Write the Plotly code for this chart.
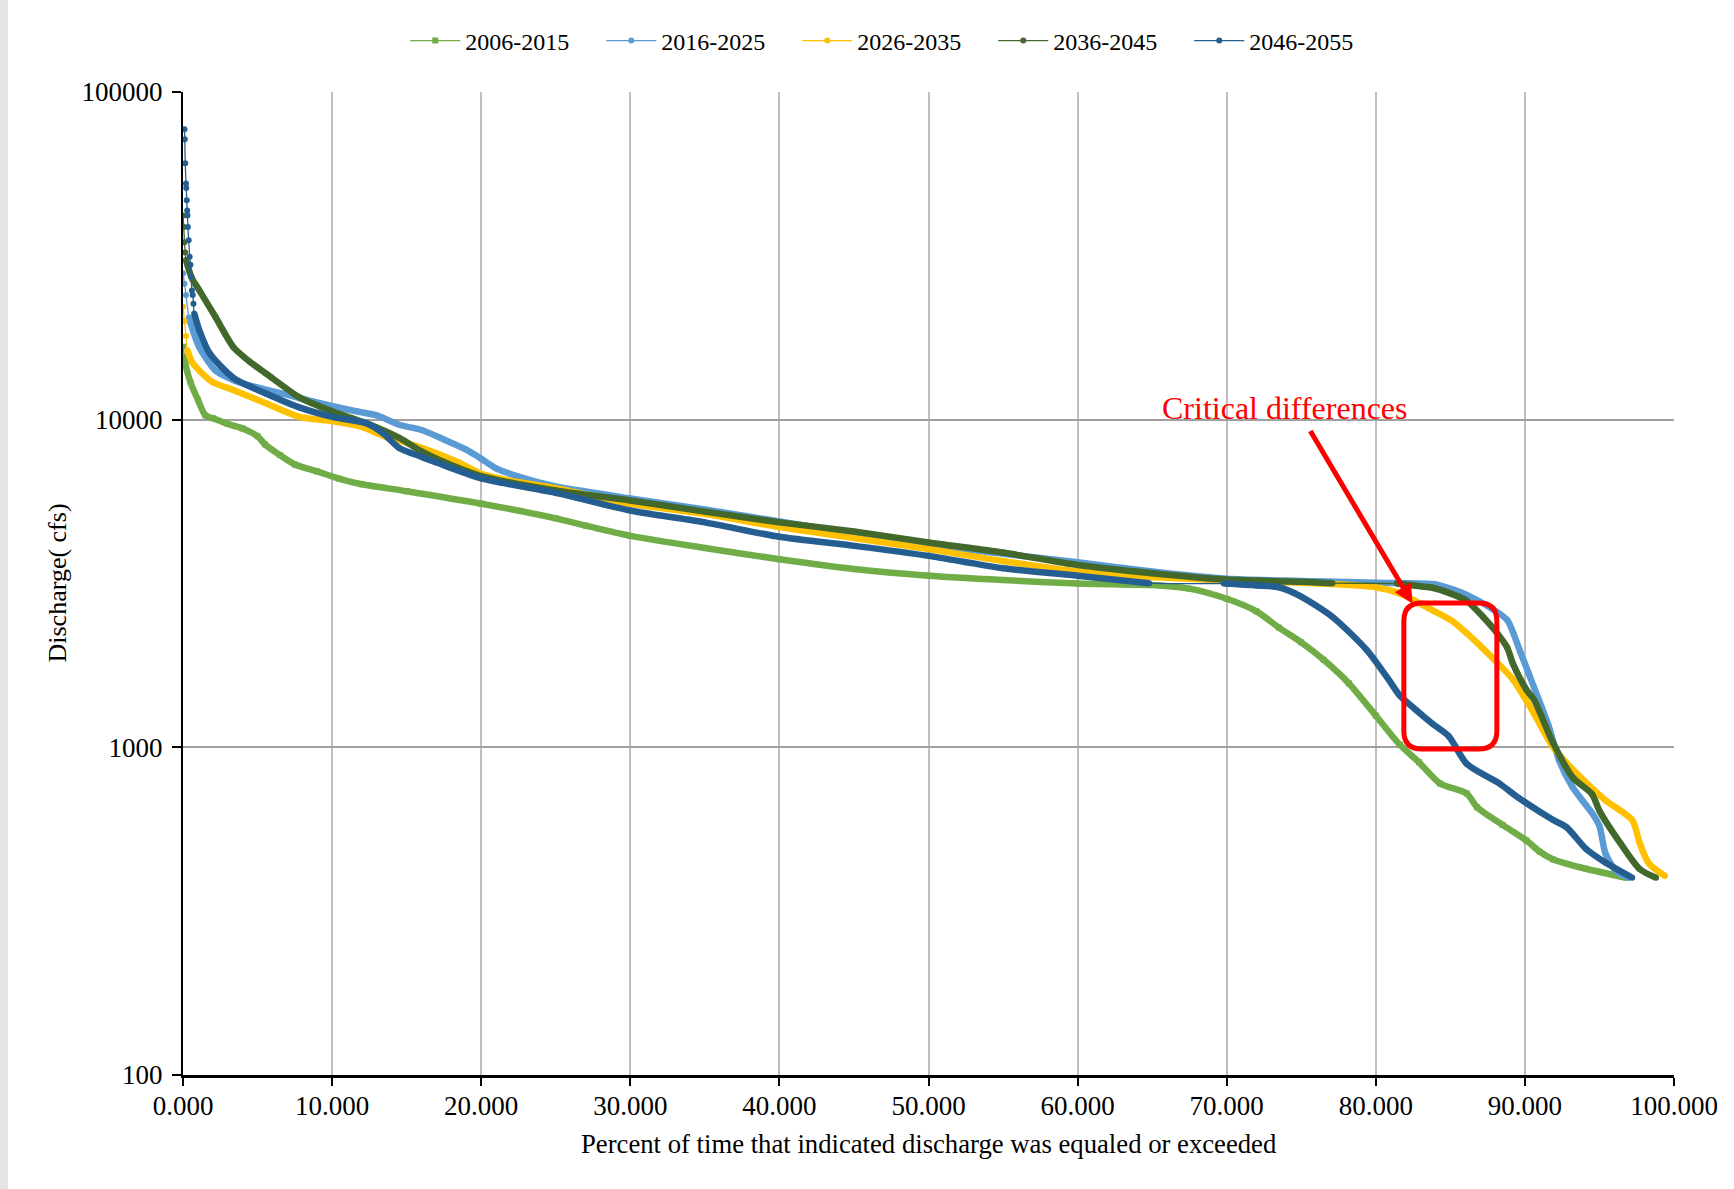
import plotly.graph_objects as go

# Flow duration curves: percent of time exceeded (x) vs discharge in cfs (y)
PERIODS = ["2006-2015", "2016-2025", "2026-2035", "2036-2045", "2046-2055"]

x_2006 = [0.0, 0.1, 0.2, 0.5, 1.0, 1.5, 2.0, 3.0, 4.0, 5.0, 5.5, 6.5, 7.5, 9.0, 10.5, 12.0, 15.0,
          20.0, 25.0, 27.0, 30.0, 35.0, 40.0, 45.0, 50.0, 55.0, 60.0, 65.5, 67.5, 70.0, 72.0,
          73.5, 75.0, 76.5, 78.2, 80.0, 81.6, 82.9, 84.3, 86.1, 86.8, 88.5, 90.1, 91.0, 91.9,
          94.1, 96.8]
q_2006 = [16700, 15600, 14500, 13000, 11500, 10300, 10100, 9700, 9400, 8900, 8400, 7800, 7300,
          6950, 6600, 6350, 6050, 5540, 5000, 4750, 4420, 4060, 3750, 3500, 3340, 3240, 3160,
          3120, 3050, 2840, 2600, 2320, 2090, 1850, 1567, 1250, 1020, 900, 776, 723, 656, 580,
          520, 480, 455, 426, 400]

x_2016 = [0.0, 0.1, 0.2, 0.4, 0.7, 1.1, 2.2, 3.4, 4.5, 6.7, 8.9, 11.2, 13.0, 14.5, 16.0, 17.5,
          19.0, 20.0, 21.0, 22.5, 25.0, 30.0, 35.0, 40.0, 45.0, 50.0, 55.0, 60.0, 65.0, 70.0,
          75.0, 80.0, 83.8, 85.0, 86.1, 87.5, 88.8, 89.7, 90.6, 91.6, 92.3, 93.2, 94.5, 95.0,
          95.4, 96.1, 97.0]
q_2016 = [28000, 26000, 24000, 20500, 18500, 16600, 14100, 13200, 12700, 12000, 11300, 10700,
          10300, 9650, 9300, 8700, 8100, 7600, 7100, 6700, 6250, 5750, 5320, 4890, 4490, 4150,
          3900, 3670, 3440, 3270, 3220, 3180, 3150, 3050, 2920, 2700, 2450, 1950, 1530, 1160,
          910, 755, 630, 575, 475, 420, 400]

x_2026 = [0.0, 0.1, 0.2, 0.3, 0.6, 1.1, 2.0, 3.4, 5.6, 7.8, 10.0, 12.0, 13.5, 15.0, 17.0, 18.5,
          20.0, 22.0, 25.0, 30.0, 35.0, 40.0, 45.0, 50.0, 55.0, 60.0, 65.0, 70.0, 75.0, 77.1,
          80.0, 81.6, 83.8, 85.0, 86.1, 87.9, 89.2, 90.6, 91.9, 93.5, 95.4, 97.2, 97.7, 98.3,
          99.4]
q_2026 = [22100, 20000, 18000, 16300, 15000, 14100, 13000, 12300, 11200, 10200, 9900, 9500,
          8900, 8500, 7900, 7400, 6830, 6500, 6180, 5540, 5160, 4700, 4350, 4030, 3700, 3440,
          3310, 3230, 3180, 3150, 3080, 2950, 2620, 2450, 2230, 1860, 1610, 1270, 1000, 830,
          690, 600, 510, 443, 405]

x_2036 = [0.0, 0.05, 0.1, 0.15, 0.2, 0.6, 1.1, 2.2, 3.4, 4.5, 5.6, 7.8, 10.0, 12.3, 14.5, 16.0,
          17.0, 20.0, 25.0, 30.0, 35.0, 40.0, 45.0, 50.0, 55.0, 60.0, 65.0, 70.0, 75.0, 77.1,
          81.4, 83.0, 83.8, 85.0, 86.1, 87.2, 87.9, 88.8, 89.2, 90.1, 90.6, 91.9, 93.2, 94.5,
          95.0, 96.4, 97.7, 98.8]
q_2036 = [42000, 38700, 34800, 32400, 30700, 27000, 24800, 20500, 16600, 15000, 13800, 11700,
          10600, 9750, 8800, 8000, 7600, 6730, 6080, 5670, 5240, 4860, 4560, 4220, 3930, 3600,
          3400, 3250, 3200, 3170, 3160, 3100, 3070, 2950, 2800, 2500, 2300, 2020, 1800, 1500,
          1400, 1030, 810, 720, 640, 510, 425, 400]

x_2046 = [0.1, 0.12, 0.15, 0.2, 0.22, 0.25, 0.28, 0.3, 0.33, 0.38, 0.45, 0.5, 0.55, 0.6, 0.65,
          0.7, 0.75, 1.1, 1.8, 3.4, 5.6, 7.8, 10.0, 12.3, 13.4, 14.5, 16.0, 17.0, 20.0, 25.0,
          30.0, 35.0, 40.0, 45.0, 50.0, 55.0, 60.0, 64.8, 69.8, 72.0, 73.5, 74.9, 77.1, 79.4,
          80.9, 81.6, 82.7, 83.8, 84.9, 86.1, 88.3, 89.6, 91.9, 92.8, 94.1, 95.4, 97.2]
q_2046 = [77000, 71700, 60600, 52600, 50900, 46700, 43500, 42000, 38700, 35300, 31400, 29700,
          27300, 24800, 24000, 22600, 21100, 18700, 15900, 13400, 12000, 10900, 10200, 9750,
          9100, 8200, 7700, 7400, 6620, 5980, 5280, 4860, 4390, 4120, 3840, 3520, 3340, 3170,
          3160, 3120, 3080, 2900, 2500, 1980, 1600, 1440, 1300, 1180, 1080, 890, 775, 700, 600,
          570, 490, 445, 400]

# Stretches with only a few daily values: drawn as thin line with single markers
sparse_2006 = [(0.0, 0.1)]
sparse_2016 = [(0.0, 0.4)]
sparse_2026 = [(0.0, 0.3)]
sparse_2036 = [(0.0, 0.2), (77.1, 81.4)]
sparse_2046 = [(0.0, 0.75), (64.8, 69.8)]

X_TICKS = [0, 10, 20, 30, 40, 50, 60, 70, 80, 90, 100]
Y_TICKS = [100, 1000, 10000, 100000]
Y_TICK_TEXT = ["100", "1000", "10000", "100000"]

series = [
    (PERIODS[0], x_2006, q_2006, sparse_2006, "#70AD47", "square"),
    (PERIODS[1], x_2016, q_2016, sparse_2016, "#5B9BD5", "circle"),
    (PERIODS[2], x_2026, q_2026, sparse_2026, "#FFC000", "circle"),
    (PERIODS[3], x_2036, q_2036, sparse_2036, "#43682B", "circle"),
    (PERIODS[4], x_2046, q_2046, sparse_2046, "#255E91", "circle"),
]

FONT = "Times New Roman, Liberation Serif, serif"


def dense_part(xs, ys, spans):
    """Break the heavy line wherever a segment lies inside a sparse stretch."""
    ox, oy = [], []
    for i, (xv, yv) in enumerate(zip(xs, ys)):
        if i > 0 and any(a <= xs[i - 1] and xv <= b for a, b in spans):
            ox.append(None)
            oy.append(None)
        ox.append(xv)
        oy.append(yv)
    return ox, oy


fig = go.Figure()
for name, xs, ys, spans, color, symbol in series:
    hx, hy = dense_part(xs, ys, spans)
    fig.add_trace(go.Scatter(
        x=hx, y=hy, mode="lines", showlegend=False, hoverinfo="skip",
        line=dict(color=color, width=6.5, shape="spline", smoothing=0.7),
        connectgaps=False,
    ))
    fig.add_trace(go.Scatter(
        x=xs, y=ys, mode="lines+markers", name=name,
        line=dict(color=color, width=1.3, shape="spline", smoothing=0.7),
        marker=dict(color=color, size=6, symbol=symbol),
    ))

W, H = 1734, 1189
L, R, T, B = 183, 60, 92, 114
pw, ph = W - L - R, H - T - B


def px_to_paper_x(px):
    return (px - L) / pw


def px_to_paper_y(py):
    return (H - B - py) / ph


fig.update_layout(
    width=W, height=H,
    margin=dict(l=L, r=R, t=T, b=B),
    paper_bgcolor="white", plot_bgcolor="white",
    font=dict(family=FONT, color="black", size=24),
    legend=dict(
        orientation="h", xref="container", yref="container",
        x=0.5163, y=1 - 41 / H, xanchor="center", yanchor="middle",
        font=dict(family=FONT, size=24, color="black"),
        entrywidth=131, itemwidth=50, bgcolor="rgba(0,0,0,0)",
    ),
    xaxis=dict(
        range=[0, 100], tickvals=X_TICKS, tickformat=".3f",
        showgrid=True, gridcolor="#BFBFBF", gridwidth=1.5,
        showline=True, linecolor="black", linewidth=2.5,
        ticks="outside", ticklen=8, tickwidth=1.5, tickcolor="black",
        tickfont=dict(family=FONT, size=27), zeroline=False,
        ticklabelstandoff=-3,
    ),
    yaxis=dict(
        type="log", range=[2, 5], tickvals=Y_TICKS, ticktext=Y_TICK_TEXT,
        showgrid=True, gridcolor="#A0A0A0", gridwidth=2,
        showline=True, linecolor="black", linewidth=2,
        ticks="outside", ticklen=9, tickwidth=1.5, tickcolor="black",
        tickfont=dict(family=FONT, size=27), zeroline=False,
        ticklabelstandoff=4,
    ),
    annotations=[
        dict(text="Percent of time that indicated discharge was equaled or exceeded",
             xref="paper", yref="paper", x=0.5, y=px_to_paper_y(1144),
             xanchor="center", yanchor="middle", showarrow=False,
             font=dict(family=FONT, size=26.7)),
        dict(text="Discharge( cfs)", xref="paper", yref="paper",
             x=px_to_paper_x(57), y=0.5, textangle=-90,
             xanchor="center", yanchor="middle", showarrow=False,
             font=dict(family=FONT, size=26)),
        dict(text="Critical differences", xref="x", yref="y",
             x=73.9, y=4.0345, xanchor="center", yanchor="middle", showarrow=False,
             font=dict(family=FONT, size=32, color="#FF0000")),
        dict(text="", xref="x", yref="y", x=82.46, y=3.439,
             ax=-103, ay=-174, showarrow=True, arrowhead=2, arrowsize=0.75,
             arrowwidth=5, arrowcolor="#FF0000", standoff=0),
    ],
    shapes=[
        # rounded frame around the 82-88 % low-flow region
        dict(type="path", xref="x", yref="y", xsizemode="pixel", ysizemode="pixel",
             xanchor=85.0, yanchor=1652,
             path=("M -28.5,-73 L 28.5,-73 Q 46.5,-73 46.5,-55 L 46.5,55 "
                   "Q 46.5,73 28.5,73 L -28.5,73 Q -46.5,73 -46.5,55 "
                   "L -46.5,-55 Q -46.5,-73 -28.5,-73 Z"),
             line=dict(color="#FF0000", width=5)),
        # grey page edge on the left
        dict(type="rect", xref="paper", yref="paper",
             x0=px_to_paper_x(0), x1=px_to_paper_x(8),
             y0=px_to_paper_y(H), y1=px_to_paper_y(0),
             fillcolor="#E4E4E4", line=dict(width=0), layer="below"),
    ],
)

fig.write_html("out.html", post_script="document.body.style.margin='0';")
